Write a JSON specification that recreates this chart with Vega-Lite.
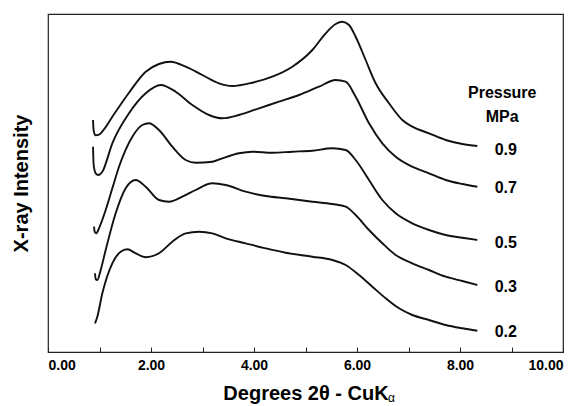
{
  "$schema": "https://vega.github.io/schema/vega-lite/v6.json",
  "autosize": "none",
  "width": 515,
  "height": 338,
  "padding": {"left": 48, "top": 14, "right": 19, "bottom": 54},
  "background": "white",
  "config": {
    "font": "Liberation Sans",
    "view": {"stroke": "#222", "strokeWidth": 1.2}
  },
  "datasets": {
    "curves": [
      {"p":"0.9","x":0.874,"y":232},{"p":"0.9","x":0.887,"y":221.3},{"p":"0.9","x":0.926,"y":216.7},{"p":"0.9","x":0.99,"y":217.3},{"p":"0.9","x":1.087,"y":222.7},{"p":"0.9","x":1.249,"y":235.3},{"p":"0.9","x":1.573,"y":259.3},{"p":"0.9","x":1.897,"y":280.3},{"p":"0.9","x":2.155,"y":288},{"p":"0.9","x":2.382,"y":290.3},{"p":"0.9","x":2.673,"y":285.3},{"p":"0.9","x":2.997,"y":277},{"p":"0.9","x":3.32,"y":268.7},{"p":"0.9","x":3.579,"y":266},{"p":"0.9","x":3.968,"y":269.3},{"p":"0.9","x":4.356,"y":275.3},{"p":"0.9","x":4.744,"y":285.3},{"p":"0.9","x":5.133,"y":302},{"p":"0.9","x":5.392,"y":318.7},{"p":"0.9","x":5.586,"y":328},{"p":"0.9","x":5.715,"y":330.3},{"p":"0.9","x":5.845,"y":327},{"p":"0.9","x":5.974,"y":315.3},{"p":"0.9","x":6.168,"y":292},{"p":"0.9","x":6.362,"y":268.7},{"p":"0.9","x":6.621,"y":248.7},{"p":"0.9","x":6.88,"y":232},{"p":"0.9","x":7.074,"y":225.3},{"p":"0.9","x":7.398,"y":218.7},{"p":"0.9","x":7.722,"y":212},{"p":"0.9","x":8.045,"y":208},{"p":"0.9","x":8.337,"y":206},
      {"p":"0.7","x":0.874,"y":205.3},{"p":"0.7","x":0.887,"y":187},{"p":"0.7","x":0.926,"y":178.7},{"p":"0.7","x":0.977,"y":177},{"p":"0.7","x":1.055,"y":180.3},{"p":"0.7","x":1.249,"y":208.7},{"p":"0.7","x":1.573,"y":238.7},{"p":"0.7","x":1.897,"y":258.7},{"p":"0.7","x":2.188,"y":267},{"p":"0.7","x":2.479,"y":260.3},{"p":"0.7","x":2.803,"y":247},{"p":"0.7","x":3.126,"y":237},{"p":"0.7","x":3.385,"y":233.7},{"p":"0.7","x":3.709,"y":237},{"p":"0.7","x":4.097,"y":243.7},{"p":"0.7","x":4.485,"y":250.3},{"p":"0.7","x":4.874,"y":257},{"p":"0.7","x":5.262,"y":265.3},{"p":"0.7","x":5.586,"y":272},{"p":"0.7","x":5.78,"y":270.3},{"p":"0.7","x":5.974,"y":255.3},{"p":"0.7","x":6.233,"y":228.7},{"p":"0.7","x":6.492,"y":208.7},{"p":"0.7","x":6.751,"y":195.3},{"p":"0.7","x":7.074,"y":185.3},{"p":"0.7","x":7.398,"y":178.7},{"p":"0.7","x":7.722,"y":172},{"p":"0.7","x":8.045,"y":168},{"p":"0.7","x":8.337,"y":165.3},
      {"p":"0.5","x":0.893,"y":125.3},{"p":"0.5","x":0.906,"y":120.3},{"p":"0.5","x":0.939,"y":118.7},{"p":"0.5","x":0.99,"y":123.7},{"p":"0.5","x":1.12,"y":142},{"p":"0.5","x":1.249,"y":163.7},{"p":"0.5","x":1.379,"y":185.3},{"p":"0.5","x":1.638,"y":215.3},{"p":"0.5","x":1.832,"y":227},{"p":"0.5","x":1.961,"y":228.7},{"p":"0.5","x":2.155,"y":222},{"p":"0.5","x":2.414,"y":205.3},{"p":"0.5","x":2.673,"y":192},{"p":"0.5","x":2.867,"y":189.3},{"p":"0.5","x":3.191,"y":190.3},{"p":"0.5","x":3.385,"y":193.7},{"p":"0.5","x":3.709,"y":198.7},{"p":"0.5","x":3.968,"y":200.3},{"p":"0.5","x":4.356,"y":199.3},{"p":"0.5","x":4.744,"y":200.3},{"p":"0.5","x":5.133,"y":201.3},{"p":"0.5","x":5.521,"y":203.7},{"p":"0.5","x":5.78,"y":202},{"p":"0.5","x":5.974,"y":192},{"p":"0.5","x":6.233,"y":172},{"p":"0.5","x":6.492,"y":152},{"p":"0.5","x":6.751,"y":138.7},{"p":"0.5","x":7.074,"y":128.7},{"p":"0.5","x":7.398,"y":122},{"p":"0.5","x":7.722,"y":117},{"p":"0.5","x":8.045,"y":114.3},{"p":"0.5","x":8.337,"y":112},
      {"p":"0.3","x":0.913,"y":78.7},{"p":"0.3","x":0.926,"y":72.7},{"p":"0.3","x":0.958,"y":72},{"p":"0.3","x":1.023,"y":82},{"p":"0.3","x":1.12,"y":102},{"p":"0.3","x":1.314,"y":138.7},{"p":"0.3","x":1.508,"y":163.7},{"p":"0.3","x":1.702,"y":172},{"p":"0.3","x":1.897,"y":165.3},{"p":"0.3","x":2.155,"y":152},{"p":"0.3","x":2.35,"y":150.3},{"p":"0.3","x":2.608,"y":155.3},{"p":"0.3","x":2.867,"y":162},{"p":"0.3","x":3.191,"y":168.7},{"p":"0.3","x":3.45,"y":167},{"p":"0.3","x":3.838,"y":160.3},{"p":"0.3","x":4.227,"y":156},{"p":"0.3","x":4.615,"y":153.7},{"p":"0.3","x":5.133,"y":150.3},{"p":"0.3","x":5.521,"y":148},{"p":"0.3","x":5.78,"y":145.3},{"p":"0.3","x":5.974,"y":137},{"p":"0.3","x":6.233,"y":122},{"p":"0.3","x":6.492,"y":108.7},{"p":"0.3","x":6.751,"y":97},{"p":"0.3","x":7.074,"y":88.7},{"p":"0.3","x":7.398,"y":82},{"p":"0.3","x":7.722,"y":75.3},{"p":"0.3","x":8.045,"y":71},{"p":"0.3","x":8.337,"y":67},
      {"p":"0.2","x":0.913,"y":28.7},{"p":"0.2","x":0.958,"y":35.3},{"p":"0.2","x":1.055,"y":58.7},{"p":"0.2","x":1.249,"y":88.7},{"p":"0.2","x":1.411,"y":100.3},{"p":"0.2","x":1.54,"y":102.7},{"p":"0.2","x":1.702,"y":98.7},{"p":"0.2","x":1.897,"y":94.7},{"p":"0.2","x":2.155,"y":98.7},{"p":"0.2","x":2.414,"y":110.3},{"p":"0.2","x":2.673,"y":118.7},{"p":"0.2","x":2.932,"y":120.3},{"p":"0.2","x":3.191,"y":118.7},{"p":"0.2","x":3.45,"y":113.7},{"p":"0.2","x":3.838,"y":108.7},{"p":"0.2","x":4.227,"y":103.7},{"p":"0.2","x":4.615,"y":99.3},{"p":"0.2","x":5.133,"y":95.3},{"p":"0.2","x":5.521,"y":92},{"p":"0.2","x":5.78,"y":87},{"p":"0.2","x":6.039,"y":77},{"p":"0.2","x":6.298,"y":65.3},{"p":"0.2","x":6.557,"y":53.7},{"p":"0.2","x":6.816,"y":43.7},{"p":"0.2","x":7.074,"y":37},{"p":"0.2","x":7.398,"y":32},{"p":"0.2","x":7.722,"y":27},{"p":"0.2","x":8.045,"y":23.7},{"p":"0.2","x":8.337,"y":21.3}
    ],
    "labels": [
      {"t":"Pressure","x":8.82,"y":259},
      {"t":"MPa","x":8.82,"y":235},
      {"t":"0.9","x":8.89,"y":202},
      {"t":"0.7","x":8.89,"y":164},
      {"t":"0.5","x":8.89,"y":109},
      {"t":"0.3","x":8.89,"y":65},
      {"t":"0.2","x":8.89,"y":20}
    ],
    "sub": [
      {"t":"α","x":6.6,"y":-50}
    ]
  },
  "layer": [
    {
      "data": {"name": "curves"},
      "mark": {"type": "line", "color": "#111", "strokeWidth": 1.9, "interpolate": "monotone"},
      "encoding": {
        "x": {
          "field": "x", "type": "quantitative",
          "scale": {"domain": [0, 10], "nice": false, "zero": false},
          "axis": {
            "title": "Degrees 2θ - CuK",
            "values": [0,1,2,3,4,5,6,7,8,9,10],
            "labelExpr": "datum.value % 2 === 0 ? format(datum.value, '.2f') : ''",
            "grid": false,
            "domainColor": "#222",
            "tickColor": "#222",
            "tickSize": -5,
            "labelPadding": 11,
            "labelFont": "Liberation Sans",
            "labelFontWeight": "bold",
            "labelFontSize": 14,
            "labelColor": "#000",
            "titleFont": "Liberation Sans",
            "titleFontWeight": "bold",
            "titleFontSize": 20,
            "titleColor": "#000",
            "titlePadding": 11
          }
        },
        "y": {
          "field": "y", "type": "quantitative",
          "scale": {"domain": [0, 338], "nice": false, "zero": false},
          "axis": {
            "title": "X-ray Intensity",
            "labels": false,
            "ticks": false,
            "domain": false,
            "grid": false,
            "titleFont": "Liberation Sans",
            "titleFontWeight": "bold",
            "titleFontSize": 20,
            "titleColor": "#000",
            "titlePadding": 17
          }
        },
        "detail": {"field": "p", "type": "nominal"}
      }
    },
    {
      "data": {"name": "labels"},
      "mark": {"type": "text", "font": "Liberation Sans", "fontWeight": "bold", "fontSize": 16, "color": "#000", "align": "center", "baseline": "middle"},
      "encoding": {
        "x": {"field": "x", "type": "quantitative"},
        "y": {"field": "y", "type": "quantitative"},
        "text": {"field": "t"}
      }
    },
    {
      "data": {"name": "sub"},
      "mark": {"type": "text", "font": "Liberation Sans", "fontSize": 12, "color": "#000", "align": "left", "baseline": "alphabetic"},
      "encoding": {
        "x": {"field": "x", "type": "quantitative"},
        "y": {"field": "y", "type": "quantitative"},
        "text": {"field": "t"}
      }
    }
  ]
}
